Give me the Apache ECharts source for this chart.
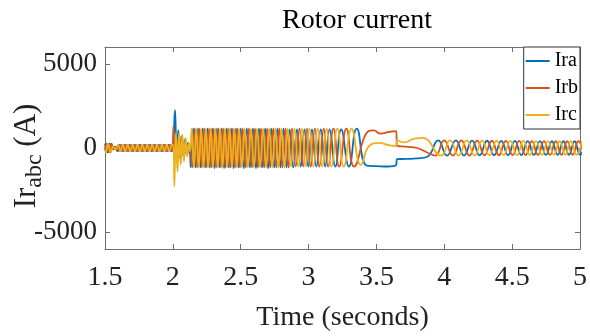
<!DOCTYPE html>
<html>
<head>
<meta charset="utf-8">
<script src="https://cdn.jsdelivr.net/npm/echarts@6/dist/echarts.min.js"></script>
<style>html,body{margin:0;padding:0;background:#fff}#c{width:590px;height:336px}</style>
</head>
<body>
<div id="c"></div>
<script>
const seriesNames = ['Ira', 'Irb', 'Irc'];
const yTickValues = [-5000, 0, 5000];

const ira = [
[1.500,260],[1.518,-260],[1.536,260],[1.554,-80],[1.572,80],[1.590,-180],[1.608,180],[1.626,-180],[1.644,180],[1.662,-180],[1.680,180],[1.698,-180],[1.716,180],[1.734,-180],[1.752,180],[1.770,-180],[1.788,180],[1.806,-180],[1.824,180],[1.842,-180],[1.860,180],[1.878,-180],[1.896,180],[1.914,-180],[1.932,180],[1.950,-180],[1.968,180],[1.986,-180],
[2.000,100],[2.016,2250],[2.027,-500],[2.040,1060],[2.052,-600],[2.064,700],[2.076,-450],[2.088,500],[2.100,-300],[2.112,300],[2.124,-100],
[2.1325,-1150],[2.150,1150],[2.1675,-1150],[2.185,1150],[2.2025,-1150],[2.220,1150],[2.2375,-1150],[2.255,1150],[2.2725,-1150],[2.290,1150],[2.3075,-1200],[2.325,1150],[2.3425,-1150],[2.360,1150],[2.3775,-1200],[2.395,1150],[2.4125,-1150],[2.430,1150],[2.4475,-1200],[2.465,1150],[2.4825,-1150],[2.500,1150],[2.5225,-1200],[2.545,1150],[2.5675,-1150],[2.590,1150],[2.6125,-1200],[2.635,1150],[2.6575,-1150],[2.680,1150],[2.7025,-1200],[2.725,1150],[2.7475,-1150],[2.770,1150],[2.7925,-1150],[2.815,1150],[2.8375,-1150],[2.860,1100],[2.8875,-1150],[2.915,1100],[2.9425,-1100],[2.970,1100],[2.9975,-1100],[3.025,1100],[3.0575,-1100],[3.090,1100],[3.1225,-1100],[3.155,1100],[3.1975,-1100],[3.240,1100],[3.2975,-1100],[3.355,1150],
[3.430,-1050],[3.500,-1080],[3.580,-1100],[3.645,-1020],[3.652,-660],[3.720,-650],[3.800,-620],[3.875,-520],
[3.955,450],[4.020,-450],[4.085,450],[4.145,-450],[4.205,440],[4.260,-440],[4.315,430],[4.3675,-430],[4.420,420],[4.470,-420],[4.520,420],[4.5675,-420],[4.615,410],[4.660,-410],[4.705,410],[4.749,-410],[4.793,400],[4.8355,-400],[4.878,400],[4.919,-400],[4.960,400],[5.000,-400],[5.040,400]
];

const irb = [
[1.500,-130],[1.512,260],[1.530,-260],[1.548,260],[1.566,-80],[1.584,80],[1.602,-180],[1.620,180],[1.638,-180],[1.656,180],[1.674,-180],[1.692,180],[1.710,-180],[1.728,180],[1.746,-180],[1.764,180],[1.782,-180],[1.800,180],[1.818,-180],[1.836,180],[1.854,-180],[1.872,180],[1.890,-180],[1.908,180],[1.926,-180],[1.944,180],[1.962,-180],[1.980,180],[1.998,-180],
[2.004,1300],[2.012,-300],[2.024,600],[2.036,-700],[2.048,750],[2.060,-600],[2.072,500],[2.084,-500],[2.096,400],[2.108,-300],[2.120,200],
[2.1442,-1150],[2.1617,1150],[2.1792,-1150],[2.1967,1150],[2.2142,-1150],[2.2317,1150],[2.2492,-1150],[2.2667,1150],[2.2842,-1150],[2.3017,1150],[2.3192,-1150],[2.3367,1150],[2.3542,-1150],[2.3717,1150],[2.3892,-1150],[2.4067,1150],[2.4242,-1150],[2.4417,1150],[2.4592,-1150],[2.4767,1150],[2.4942,-1150],
[2.515,1150],[2.5375,-1150],[2.560,1150],[2.5825,-1150],[2.605,1150],[2.6275,-1150],[2.650,1150],[2.6725,-1150],[2.695,1150],[2.7175,-1150],[2.740,1150],[2.7625,-1150],[2.785,1150],[2.8075,-1150],[2.830,1150],[2.8525,-1150],
[2.8783,1150],[2.9058,-1100],[2.9333,1150],[2.9608,-1100],[2.9883,1150],[3.0158,-1100],[3.0467,1150],[3.0792,-1100],[3.1117,1150],[3.1442,-1100],[3.1833,1150],[3.2258,-1100],[3.2783,1150],[3.3358,-1100],
[3.440,1000],[3.480,1050],[3.530,850],[3.590,950],[3.645,1000],[3.652,150],[3.720,80],[3.800,0],[3.870,-250],
[3.933,-450],[3.9983,450],[4.0633,-450],[4.125,450],[4.185,-450],[4.2417,440],[4.2967,-440],[4.350,430],[4.4025,-430],[4.4533,420],[4.5033,-420],[4.5517,420],[4.5992,-420],[4.645,410],[4.690,-410],[4.7343,410],[4.7783,-410],[4.8213,400],[4.8638,-400],[4.9053,400],[4.9463,-400],[4.9867,400],[5.0267,-400]
];

const irc = [
[1.500,-130],[1.506,-260],[1.524,260],[1.542,-260],[1.560,80],[1.578,-80],[1.596,180],[1.614,-180],[1.632,180],[1.650,-180],[1.668,180],[1.686,-180],[1.704,180],[1.722,-180],[1.740,180],[1.758,-180],[1.776,180],[1.794,-180],[1.812,180],[1.830,-180],[1.848,180],[1.866,-180],[1.884,180],[1.902,-180],[1.920,180],[1.938,-180],[1.956,180],[1.974,-180],[1.992,180],
[2.003,200],[2.011,-2280],[2.022,900],[2.034,-1400],[2.046,900],[2.058,-1000],[2.070,800],[2.082,-800],[2.094,600],[2.106,-500],[2.118,300],[2.128,-200],
[2.1383,1150],[2.1558,-1150],[2.1733,1150],[2.1908,-1150],[2.2083,1150],[2.2258,-1150],[2.2433,1150],[2.2608,-1150],[2.2783,1150],[2.2958,-1150],[2.3133,1150],[2.3308,-1150],[2.3483,1150],[2.3658,-1150],[2.3833,1150],[2.4008,-1150],[2.4183,1150],[2.4358,-1150],[2.4533,1150],[2.4708,-1150],[2.4883,1150],
[2.5075,-1150],[2.530,1150],[2.5525,-1150],[2.575,1150],[2.5975,-1150],[2.620,1150],[2.6425,-1150],[2.665,1150],[2.6875,-1150],[2.710,1150],[2.7325,-1150],[2.755,1150],[2.7775,-1150],[2.800,1150],[2.8225,-1150],[2.845,1150],
[2.8692,-1100],[2.8967,1150],[2.9242,-1100],[2.9517,1150],[2.9792,-1100],[3.0067,1150],[3.0358,-1100],[3.0683,1150],[3.1008,-1100],[3.1333,1150],[3.1692,-1100],[3.2117,1150],[3.2592,-1100],[3.3167,1150],
[3.385,-1000],[3.450,150],[3.520,300],[3.600,150],[3.645,120],[3.652,470],[3.700,330],[3.780,550],[3.840,600],
[3.9767,-450],[4.0417,450],[4.105,-450],[4.165,450],[4.2233,-440],[4.2783,440],[4.3325,-430],[4.385,430],[4.4367,-420],[4.4867,420],[4.5358,-420],[4.5833,420],[4.630,-410],[4.675,410],[4.7197,-410],[4.7637,410],[4.8072,-400],[4.8497,400],[4.8917,-400],[4.9327,400],[4.9733,-400],[5.0133,400]
];

const seriesData = [ira, irb, irc];
const colors = ['#0072BD', '#D95319', '#EDB120'];
const FONT = '"Liberation Serif", "Times New Roman", serif';
const axisColor = '#6e6e6e';
const plain = v => String(v);

const chart = echarts.init(document.getElementById('c'), null, {renderer: 'canvas'});
const baseX = {
  type: 'value', min: 1.5, max: 5, interval: 0.5,
  axisLine: {show: true, onZero: false, lineStyle: {color: axisColor, width: 1}},
  axisTick: {show: true, inside: true, length: 5, lineStyle: {color: axisColor}},
  splitLine: {show: false}
};
const baseY = {
  type: 'value', min: -6000, max: 6000,
  axisLine: {show: true, onZero: false, lineStyle: {color: axisColor, width: 1}},
  axisTick: {show: true, inside: true, length: 5, customValues: yTickValues, lineStyle: {color: axisColor}},
  splitLine: {show: false}
};
chart.setOption({
  animation: false,
  backgroundColor: '#fff',
  grid: {left: 105, right: 10, top: 47, bottom: 87, containLabel: false, outerBoundsMode: 'none'},
  graphic: [{
    type: 'text', x: 357, y: 21,
    style: {text: 'Rotor current', font: '28px ' + FONT, fill: '#000', textAlign: 'center', textVerticalAlign: 'middle'}
  }],
  xAxis: [
    Object.assign({}, baseX, {
      position: 'bottom',
      axisLabel: {show: true, margin: 15, formatter: plain, color: '#222', fontFamily: FONT, fontSize: 28},
      name: 'Time (seconds)', nameLocation: 'middle', nameGap: 55, nameMoveOverlap: false,
      nameTextStyle: {color: '#222', fontFamily: FONT, fontSize: 28}
    }),
    Object.assign({}, baseX, {position: 'top', axisLabel: {show: false}})
  ],
  yAxis: [
    Object.assign({}, baseY, {
      position: 'left',
      axisLabel: {show: true, margin: 8, formatter: plain, customValues: yTickValues, color: '#222', fontFamily: FONT, fontSize: 27},
      name: '{a|Ir}{b|abc}{a| (A)}{c| }', nameLocation: 'middle', nameGap: 58, nameMoveOverlap: false,
      nameTextStyle: {
        color: '#222',
        rich: {
          a: {fontFamily: FONT, fontSize: 31, color: '#222', lineHeight: 40, verticalAlign: 'middle'},
          b: {fontFamily: FONT, fontSize: 24, color: '#222', lineHeight: 40, verticalAlign: 'bottom'},
          c: {fontFamily: FONT, fontSize: 10, width: 16, lineHeight: 40}
        }
      }
    }),
    Object.assign({}, baseY, {position: 'right', axisLabel: {show: false}})
  ],
  legend: {
    data: seriesNames.map(n => ({name: n, icon: 'rect'})), orient: 'vertical', right: 10, top: 47,
    itemWidth: 24, itemHeight: 2, itemGap: 7,
    padding: [4, 2, 4, 2],
    backgroundColor: '#fff', borderColor: '#333', borderWidth: 1,
    textStyle: {fontFamily: FONT, fontSize: 20, color: '#000'}
  },
  series: seriesNames.map((n, i) => ({
    name: n, type: 'line', data: seriesData[i], xAxisIndex: 0, yAxisIndex: 0,
    smooth: true, symbol: 'none', showSymbol: false,
    lineStyle: {color: colors[i], width: 1.8}, itemStyle: {color: colors[i]},
    clip: true, z: 2 + i
  }))
});
</script>
</body>
</html>
